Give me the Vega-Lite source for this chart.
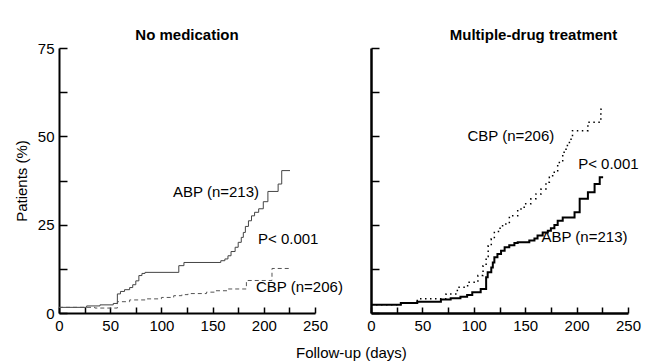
{
  "$schema": "https://vega.github.io/schema/vega-lite/v6.json",
  "background": "white",
  "padding": {"left": 14, "top": 28, "right": 4, "bottom": 0},
  "config": {
    "font": "Liberation Sans",
    "view": {"stroke": null},
    "concat": {"spacing": 22},
    "axis": {
      "domainColor": "black", "domainWidth": 2, "grid": false, "labelFlush": false, "labelOverlap": false,
      "labelFontSize": 15, "labelColor": "black", "labelFont": "Liberation Sans",
      "titleFontSize": 15, "titleFontWeight": "normal", "titleColor": "black", "titleFont": "Liberation Sans"
    },
    "title": {"fontSize": 15, "fontWeight": "bold", "color": "black", "font": "Liberation Sans", "offset": -2}
  },
  "title": {"text": "Follow-up (days)", "orient": "bottom", "anchor": "middle", "fontWeight": "normal", "fontSize": 15, "offset": 13, "dx": 24},
  "datasets": {
    "curves": [
      {"panel": "L", "series": "ABP", "day": 0, "pct": 1.6},
      {"panel": "L", "series": "ABP", "day": 27, "pct": 2.0},
      {"panel": "L", "series": "ABP", "day": 40, "pct": 2.3},
      {"panel": "L", "series": "ABP", "day": 53, "pct": 2.7},
      {"panel": "L", "series": "ABP", "day": 57, "pct": 5.4},
      {"panel": "L", "series": "ABP", "day": 60, "pct": 6.1},
      {"panel": "L", "series": "ABP", "day": 64, "pct": 6.6},
      {"panel": "L", "series": "ABP", "day": 69, "pct": 7.2},
      {"panel": "L", "series": "ABP", "day": 72, "pct": 8.0},
      {"panel": "L", "series": "ABP", "day": 75, "pct": 9.1},
      {"panel": "L", "series": "ABP", "day": 78, "pct": 10.6},
      {"panel": "L", "series": "ABP", "day": 81, "pct": 11.2},
      {"panel": "L", "series": "ABP", "day": 84, "pct": 11.5},
      {"panel": "L", "series": "ABP", "day": 117, "pct": 13.4},
      {"panel": "L", "series": "ABP", "day": 122, "pct": 14.3},
      {"panel": "L", "series": "ABP", "day": 158, "pct": 14.8},
      {"panel": "L", "series": "ABP", "day": 162, "pct": 15.3},
      {"panel": "L", "series": "ABP", "day": 165, "pct": 16.2},
      {"panel": "L", "series": "ABP", "day": 168, "pct": 17.4},
      {"panel": "L", "series": "ABP", "day": 172, "pct": 18.6},
      {"panel": "L", "series": "ABP", "day": 175, "pct": 20.0},
      {"panel": "L", "series": "ABP", "day": 178, "pct": 21.4},
      {"panel": "L", "series": "ABP", "day": 180, "pct": 22.8},
      {"panel": "L", "series": "ABP", "day": 182, "pct": 24.5},
      {"panel": "L", "series": "ABP", "day": 185, "pct": 26.1},
      {"panel": "L", "series": "ABP", "day": 188, "pct": 27.5},
      {"panel": "L", "series": "ABP", "day": 191, "pct": 28.5},
      {"panel": "L", "series": "ABP", "day": 195, "pct": 29.5},
      {"panel": "L", "series": "ABP", "day": 199.5, "pct": 31.5},
      {"panel": "L", "series": "ABP", "day": 204, "pct": 34.4},
      {"panel": "L", "series": "ABP", "day": 214, "pct": 36.5},
      {"panel": "L", "series": "ABP", "day": 217.5, "pct": 40.3},
      {"panel": "L", "series": "ABP", "day": 225.6, "pct": 40.3},
      {"panel": "L", "series": "CBP", "day": 0, "pct": 1.6},
      {"panel": "L", "series": "CBP", "day": 35, "pct": 1.4},
      {"panel": "L", "series": "CBP", "day": 57, "pct": 3.2},
      {"panel": "L", "series": "CBP", "day": 69, "pct": 3.7},
      {"panel": "L", "series": "CBP", "day": 86, "pct": 4.0},
      {"panel": "L", "series": "CBP", "day": 100, "pct": 4.4},
      {"panel": "L", "series": "CBP", "day": 112, "pct": 4.9},
      {"panel": "L", "series": "CBP", "day": 120, "pct": 5.2},
      {"panel": "L", "series": "CBP", "day": 126, "pct": 5.5},
      {"panel": "L", "series": "CBP", "day": 144, "pct": 5.9},
      {"panel": "L", "series": "CBP", "day": 153, "pct": 6.3},
      {"panel": "L", "series": "CBP", "day": 165, "pct": 6.8},
      {"panel": "L", "series": "CBP", "day": 183, "pct": 9.2},
      {"panel": "L", "series": "CBP", "day": 208, "pct": 12.6},
      {"panel": "L", "series": "CBP", "day": 225, "pct": 12.6},
      {"panel": "R", "series": "ABP", "day": 0, "pct": 2.3},
      {"panel": "R", "series": "ABP", "day": 29, "pct": 2.8},
      {"panel": "R", "series": "ABP", "day": 45, "pct": 3.2},
      {"panel": "R", "series": "ABP", "day": 68, "pct": 3.8},
      {"panel": "R", "series": "ABP", "day": 77.5, "pct": 4.2},
      {"panel": "R", "series": "ABP", "day": 87, "pct": 4.6},
      {"panel": "R", "series": "ABP", "day": 93.5, "pct": 5.1},
      {"panel": "R", "series": "ABP", "day": 98.5, "pct": 5.9},
      {"panel": "R", "series": "ABP", "day": 106.7, "pct": 6.8},
      {"panel": "R", "series": "ABP", "day": 112, "pct": 10.1},
      {"panel": "R", "series": "ABP", "day": 113.5, "pct": 11.5},
      {"panel": "R", "series": "ABP", "day": 117, "pct": 12.9},
      {"panel": "R", "series": "ABP", "day": 118.5, "pct": 14.3},
      {"panel": "R", "series": "ABP", "day": 120, "pct": 15.8},
      {"panel": "R", "series": "ABP", "day": 123, "pct": 16.7},
      {"panel": "R", "series": "ABP", "day": 126.5, "pct": 17.6},
      {"panel": "R", "series": "ABP", "day": 130, "pct": 18.6},
      {"panel": "R", "series": "ABP", "day": 134.5, "pct": 19.2},
      {"panel": "R", "series": "ABP", "day": 139.5, "pct": 19.8},
      {"panel": "R", "series": "ABP", "day": 142.7, "pct": 20.0},
      {"panel": "R", "series": "ABP", "day": 154, "pct": 20.5},
      {"panel": "R", "series": "ABP", "day": 159, "pct": 21.1},
      {"panel": "R", "series": "ABP", "day": 162, "pct": 21.9},
      {"panel": "R", "series": "ABP", "day": 167, "pct": 22.8},
      {"panel": "R", "series": "ABP", "day": 172, "pct": 23.3},
      {"panel": "R", "series": "ABP", "day": 175, "pct": 24.0},
      {"panel": "R", "series": "ABP", "day": 178.4, "pct": 24.9},
      {"panel": "R", "series": "ABP", "day": 181.6, "pct": 26.1},
      {"panel": "R", "series": "ABP", "day": 186.5, "pct": 27.0},
      {"panel": "R", "series": "ABP", "day": 198, "pct": 28.5},
      {"panel": "R", "series": "ABP", "day": 203, "pct": 32.3},
      {"panel": "R", "series": "ABP", "day": 211, "pct": 34.2},
      {"panel": "R", "series": "ABP", "day": 217.5, "pct": 36.5},
      {"panel": "R", "series": "ABP", "day": 222.5, "pct": 38.4},
      {"panel": "R", "series": "ABP", "day": 225.8, "pct": 38.4},
      {"panel": "R", "series": "CBP", "day": 0, "pct": 2.3},
      {"panel": "R", "series": "CBP", "day": 29, "pct": 2.8},
      {"panel": "R", "series": "CBP", "day": 45, "pct": 4.0},
      {"panel": "R", "series": "CBP", "day": 73, "pct": 5.4},
      {"panel": "R", "series": "CBP", "day": 84, "pct": 7.3},
      {"panel": "R", "series": "CBP", "day": 94, "pct": 8.7},
      {"panel": "R", "series": "CBP", "day": 104, "pct": 10.6},
      {"panel": "R", "series": "CBP", "day": 109, "pct": 13.4},
      {"panel": "R", "series": "CBP", "day": 112, "pct": 16.0},
      {"panel": "R", "series": "CBP", "day": 114, "pct": 19.0},
      {"panel": "R", "series": "CBP", "day": 117, "pct": 21.0},
      {"panel": "R", "series": "CBP", "day": 120, "pct": 22.8},
      {"panel": "R", "series": "CBP", "day": 124, "pct": 24.0},
      {"panel": "R", "series": "CBP", "day": 128, "pct": 25.2},
      {"panel": "R", "series": "CBP", "day": 134.6, "pct": 27.5},
      {"panel": "R", "series": "CBP", "day": 142.7, "pct": 29.4},
      {"panel": "R", "series": "CBP", "day": 149, "pct": 30.9},
      {"panel": "R", "series": "CBP", "day": 155.5, "pct": 32.3},
      {"panel": "R", "series": "CBP", "day": 160.5, "pct": 33.7},
      {"panel": "R", "series": "CBP", "day": 165.4, "pct": 35.1},
      {"panel": "R", "series": "CBP", "day": 170.2, "pct": 37.0},
      {"panel": "R", "series": "CBP", "day": 173.5, "pct": 38.4},
      {"panel": "R", "series": "CBP", "day": 176.7, "pct": 39.8},
      {"panel": "R", "series": "CBP", "day": 181.6, "pct": 42.6},
      {"panel": "R", "series": "CBP", "day": 186.5, "pct": 45.5},
      {"panel": "R", "series": "CBP", "day": 189.7, "pct": 47.4},
      {"panel": "R", "series": "CBP", "day": 193, "pct": 49.2},
      {"panel": "R", "series": "CBP", "day": 196, "pct": 51.6},
      {"panel": "R", "series": "CBP", "day": 211, "pct": 54.0},
      {"panel": "R", "series": "CBP", "day": 223.6, "pct": 57.7},
      {"panel": "R", "series": "CBP", "day": 224.5, "pct": 57.7}
    ],
    "notes": [
      {"panel": "L", "label": "ABP (n=213)", "day": 111.3, "pct": 34.2},
      {"panel": "L", "label": "P< 0.001", "day": 194.3, "pct": 20.9},
      {"panel": "L", "label": "CBP (n=206)", "day": 192.4, "pct": 7.5},
      {"panel": "R", "label": "CBP (n=206)", "day": 93.8, "pct": 50.2},
      {"panel": "R", "label": "P< 0.001", "day": 201.5, "pct": 42.2},
      {"panel": "R", "label": "ABP (n=213)", "day": 165.8, "pct": 21.4}
    ]
  },
  "hconcat": [
    {
      "width": 256, "height": 265,
      "title": {"text": "No medication", "anchor": "middle"},
      "encoding": {
        "x": {"field": "day", "type": "quantitative", "scale": {"domain": [0, 250], "nice": false},
              "axis": {"values": [0, 25, 50, 75, 100, 125, 150, 175, 200, 225, 250], "labelExpr": "datum.value % 50 === 0 ? datum.label : ''", "title": null,
                       "ticks": true, "tickSize": -6, "tickColor": "black", "tickWidth": 1.5, "labelPadding": 11}},
        "y": {"field": "pct", "type": "quantitative", "scale": {"domain": [0, 75], "nice": false},
              "axis": {"values": [0, 12.5, 25, 37.5, 50, 62.5, 75], "labelExpr": "datum.value % 25 === 0 ? datum.label : ''", "title": "Patients (%)", "titlePadding": 8,
                       "ticks": true, "tickSize": -8, "tickColor": "black", "tickWidth": 1.5, "labelPadding": 13}}
      },
      "layer": [
        {"data": {"name": "curves"}, "transform": [{"filter": "datum.panel === 'L' && datum.series === 'ABP'"}],
         "mark": {"type": "line", "interpolate": "step-after", "stroke": "#444444", "strokeWidth": 1}},
        {"data": {"name": "curves"}, "transform": [{"filter": "datum.panel === 'L' && datum.series === 'CBP'"}],
         "mark": {"type": "line", "interpolate": "step-after", "stroke": "#555555", "strokeWidth": 1, "strokeDash": [4, 3]}},
        {"data": {"name": "notes"}, "transform": [{"filter": "datum.panel === 'L'"}],
         "mark": {"type": "text", "align": "left", "baseline": "middle", "fontSize": 15, "color": "black", "font": "Liberation Sans"},
         "encoding": {"text": {"field": "label"}}}
      ]
    },
    {
      "width": 257, "height": 265,
      "title": {"text": "Multiple-drug treatment", "anchor": "middle", "dx": 34, "offset": 4},
      "encoding": {
        "x": {"field": "day", "type": "quantitative", "scale": {"domain": [0, 250], "nice": false},
              "axis": {"values": [0, 25, 50, 75, 100, 125, 150, 175, 200, 225, 250], "labelExpr": "datum.value % 50 === 0 ? datum.label : ''", "title": null, "domainWidth": 2.5,
                       "ticks": true, "tickSize": -6, "tickColor": "black", "tickWidth": 1.5, "labelPadding": 11}},
        "y": {"field": "pct", "type": "quantitative", "scale": {"domain": [0, 75], "nice": false},
              "axis": {"values": [0, 12.5, 25, 37.5, 50, 62.5, 75], "labels": false, "title": null, "domainWidth": 2.5,
                       "ticks": true, "tickSize": -8, "tickColor": "black", "tickWidth": 1.5}}
      },
      "layer": [
        {"data": {"name": "curves"}, "transform": [{"filter": "datum.panel === 'R' && datum.series === 'CBP'"}],
         "mark": {"type": "line", "interpolate": "step-after", "stroke": "black", "strokeWidth": 1.5, "strokeDash": [1.5, 3.5]}},
        {"data": {"name": "curves"}, "transform": [{"filter": "datum.panel === 'R' && datum.series === 'ABP'"}],
         "mark": {"type": "line", "interpolate": "step-after", "stroke": "black", "strokeWidth": 2}},
        {"data": {"name": "notes"}, "transform": [{"filter": "datum.panel === 'R'"}],
         "mark": {"type": "text", "align": "left", "baseline": "middle", "fontSize": 15, "color": "black", "font": "Liberation Sans"},
         "encoding": {"text": {"field": "label"}}}
      ]
    }
  ]
}
